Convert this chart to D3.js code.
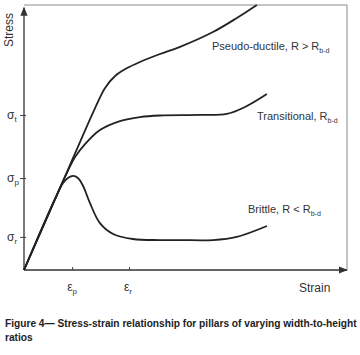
<!DOCTYPE html>
<html><head><meta charset="utf-8">
<script src="https://cdn.jsdelivr.net/npm/d3@7"></script>
<style>body{margin:0;background:#fff}svg{display:block}text{font-family:"Liberation Sans",Arial,sans-serif}</style>
</head><body>
<script>
const pseudoDuctile = [[0,0],[11,30.5],[22,61.1],[25.1,68.7],[28.2,73.2],[31.9,76.2],[35.9,78.5],[42.1,81.5],[48.3,84.2],[58.5,89.8],[65.9,95.1],[72.1,100]];
const transitional = [[0,0],[9.6,26.8],[12.7,35.1],[15.8,42.6],[18.9,47.5],[23.5,52.8],[29.7,56.2],[35.9,57.7],[42.1,58.3],[54.5,58.5],[62.8,58.9],[68.4,61.5],[75.2,66.4]];
const brittle = [[0,0],[9.6,26.8],[12.1,32.8],[13.6,34.7],[15.2,35.5],[16.7,34.7],[18.3,31.7],[20.4,25.3],[23.5,17.7],[27.6,13.6],[33.7,11.7],[42.1,11.3],[48.3,11.3],[58.5,11.3],[65.9,12.5],[75.2,16.6]];
const xTicks = [14.9, 32.5];
const xTickLabels = [["ε","p"],["ε","r"]];
const yTicks = [58.5, 34.7, 12.5];
const yTickLabels = [["σ","t"],["σ","p"],["σ","r"]];
const curveLabels = [
  {name:"Pseudo-ductile, R > R", sub:"b-d", at:[212,50]},
  {name:"Transitional, R", sub:"b-d", at:[257,120]},
  {name:"Brittle, R < R", sub:"b-d", at:[248,213]}
];
const captionLines = ["Figure 4— Stress-strain relationship for pillars of varying width-to-height","ratios"];

const W=360,H=355;
const svg=d3.select("body").append("svg").attr("width",W).attr("height",H);
const x=d3.scaleLinear().domain([0,100]).range([24,347]);
const y=d3.scaleLinear().domain([0,100]).range([270,5]);

svg.append("defs").append("marker").attr("id","arr").attr("viewBox","0 0 10 10")
 .attr("refX",9).attr("refY",5).attr("markerWidth",7).attr("markerHeight",7).attr("orient","auto")
 .append("path").attr("d","M0,1L10,5L0,9Z").attr("fill","#333");

svg.append("path").attr("d",`M${x(0)},${y(100)}H${x(100)}V${y(0)}`).attr("fill","none").attr("stroke","#8a8a8a").attr("stroke-width",1);

const gx=svg.append("g").attr("transform",`translate(0,${y(0)})`)
 .call(d3.axisTop(x).tickValues(xTicks).tickFormat("").tickSizeInner(3).tickSizeOuter(0));
gx.select(".domain").remove();
gx.selectAll("line").attr("stroke","#444");
const gy=svg.append("g").attr("transform",`translate(${x(0)},0)`)
 .call(d3.axisLeft(y).tickValues(yTicks).tickFormat("").tickSizeInner(4).tickSizeOuter(0));
gy.select(".domain").remove();
gy.selectAll("line").attr("stroke","#444").attr("x2",-4).attr("x1",2);

svg.append("line").attr("x1",x(0)).attr("y1",y(0)).attr("x2",x(0)).attr("y2",y(99)).attr("stroke","#333").attr("stroke-width",1.3).attr("marker-end","url(#arr)");
svg.append("line").attr("x1",x(0)).attr("y1",y(0)).attr("x2",x(100)).attr("y2",y(0)).attr("stroke","#333").attr("stroke-width",1.3).attr("marker-end","url(#arr)");

const line=d3.line().x(d=>x(d[0])).y(d=>y(d[1])).curve(d3.curveCatmullRom.alpha(0.5));
[pseudoDuctile,transitional,brittle].forEach(s=>{
  svg.append("path").attr("d",line(s)).attr("fill","none").attr("stroke","#222").attr("stroke-width",1.8);
});

yTicks.forEach((v,i)=>{
  const t=svg.append("text").attr("x",7).attr("y",y(v)+4).attr("font-size",12).attr("fill","#333");
  t.append("tspan").text(yTickLabels[i][0]);
  t.append("tspan").attr("dy",3).attr("font-size",8).text(yTickLabels[i][1]);
});
xTicks.forEach((v,i)=>{
  const t=svg.append("text").attr("x",x(v)-5).attr("y",291).attr("font-size",12).attr("fill","#333");
  t.append("tspan").text(xTickLabels[i][0]);
  t.append("tspan").attr("dy",3).attr("font-size",8).text(xTickLabels[i][1]);
});

svg.append("text").attr("transform","translate(13,30) rotate(-90)").attr("text-anchor","middle").attr("font-size",12).attr("fill","#333").text("Stress");
svg.append("text").attr("x",299).attr("y",292).attr("font-size",12).attr("fill","#333").text("Strain");

curveLabels.forEach(c=>{
  const t=svg.append("text").attr("x",c.at[0]).attr("y",c.at[1]).attr("font-size",11).attr("fill","#333");
  t.append("tspan").text(c.name);
  t.append("tspan").attr("dy",2.5).attr("font-size",7).text(c.sub);
});

// caption, horizontally condensed to fit
const cap=svg.append("g");
const c1=cap.append("text").attr("y",327).attr("font-size",11).attr("font-weight","bold").attr("fill","#222").text(captionLines[0]);
const w1=c1.node().getComputedTextLength();
const k=352/w1;
c1.attr("transform",`translate(5,0) scale(${k},1)`);
cap.append("text").attr("y",341).attr("font-size",11).attr("font-weight","bold").attr("fill","#222")
 .attr("transform",`translate(5,0) scale(${k},1)`).text(captionLines[1]);
</script>
</body></html>
